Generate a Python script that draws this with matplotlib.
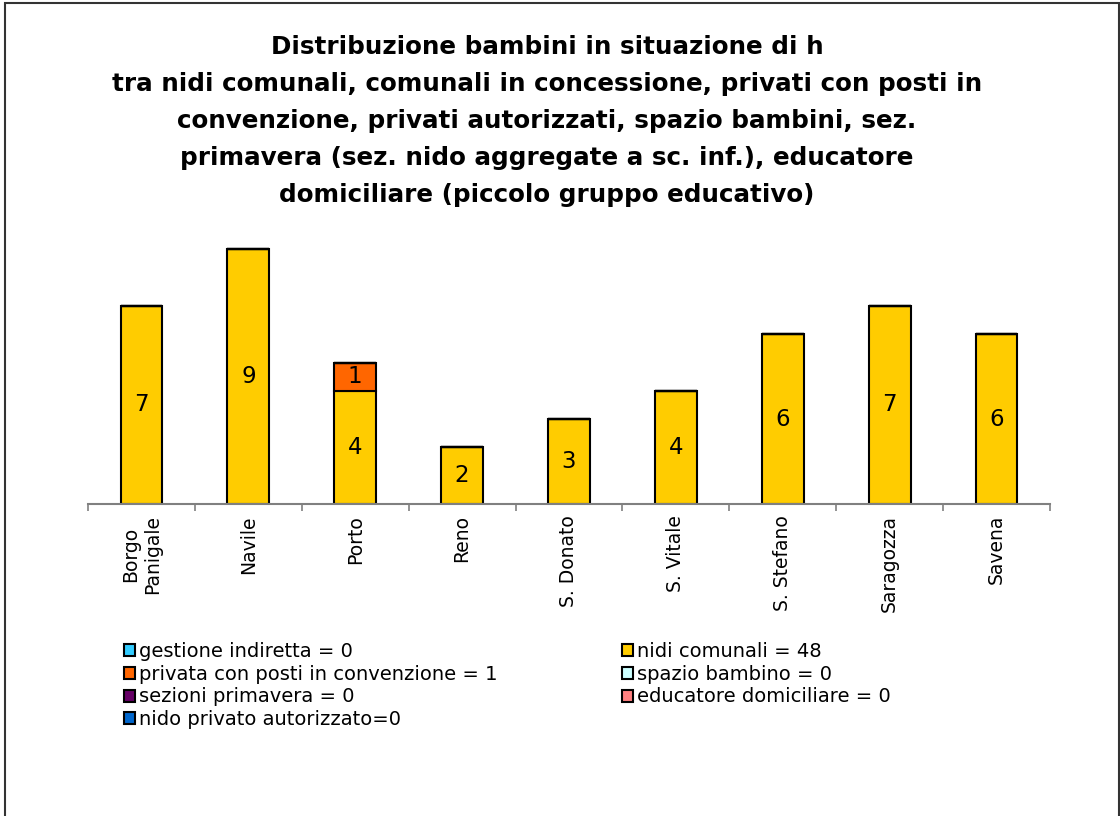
import numpy as np
import matplotlib
matplotlib.use("Agg")
import matplotlib.pyplot as plt
from matplotlib.patches import Rectangle

plt.rcParams['font.family'] = ['DejaVu Sans']

quartieri = ['Borgo\nPanigale', 'Navile', 'Porto', 'Reno', 'S. Donato',
             'S. Vitale', 'S. Stefano', 'Saragozza', 'Savena']

# series, bottom to top of the stack
nidi_comunali = [7, 9, 4, 2, 3, 4, 6, 7, 6]
privata_conv = [0, 0, 1, 0, 0, 0, 0, 0, 0]
gestione_indiretta = [0, 0, 0, 0, 0, 0, 0, 0, 0]
spazio_bambino = [0, 0, 0, 0, 0, 0, 0, 0, 0]
sezioni_primavera = [0, 0, 0, 0, 0, 0, 0, 0, 0]
educatore_dom = [0, 0, 0, 0, 0, 0, 0, 0, 0]
nido_privato_aut = [0, 0, 0, 0, 0, 0, 0, 0, 0]

serie = [
    ('nidi comunali = 48', nidi_comunali, '#FFCC00'),
    ('privata con posti in convenzione = 1', privata_conv, '#FF6600'),
    ('gestione indiretta = 0', gestione_indiretta, '#33CCFF'),
    ('spazio bambino = 0', spazio_bambino, '#CCFFFF'),
    ('sezioni primavera = 0', sezioni_primavera, '#660066'),
    ('educatore domiciliare = 0', educatore_dom, '#FF8080'),
    ('nido privato autorizzato=0', nido_privato_aut, '#0066CC'),
]
ordine_legenda = ['gestione indiretta = 0', 'privata con posti in convenzione = 1',
                  'sezioni primavera = 0', 'nido privato autorizzato=0',
                  'nidi comunali = 48', 'spazio bambino = 0',
                  'educatore domiciliare = 0']

titolo = ("Distribuzione bambini in situazione di h\n"
          "tra nidi comunali, comunali in concessione, privati con posti in\n"
          "convenzione, privati autorizzati, spazio bambini, sez.\n"
          "primavera (sez. nido aggregate a sc. inf.), educatore\n"
          "domiciliare (piccolo gruppo educativo)")

fig = plt.figure(figsize=(11.2, 8.16), dpi=100)
ax = fig.add_axes([88/1120, 1-504/816, 962/1120, 283/816])

x = np.arange(len(quartieri))
bottom = np.zeros(len(quartieri))
handles = {}
for label, vals, col in serie:
    vals = np.array(vals, dtype=float)
    b = ax.bar(x, vals, width=0.39, bottom=bottom, color=col,
               edgecolor='black', linewidth=1.5, label=label)
    handles[label] = b
    for xi, v, b0 in zip(x, vals, bottom):
        if v > 0:
            ax.text(xi, b0 + v/2, f'{int(v)}', ha='center', va='center',
                    fontsize=16.5)
    bottom += vals

ax.set_xlim(-0.5, len(quartieri) - 0.5)
ax.set_ylim(0, 10)
for s in ['top', 'right', 'left']:
    ax.spines[s].set_visible(False)
ax.spines['bottom'].set_color('#808080')
ax.spines['bottom'].set_linewidth(1.5)
ax.set_yticks([])
ax.set_xticks(x)
ax.set_xticklabels(quartieri, rotation=90, fontsize=13.5, va='top',
                   ha='center', multialignment='center')
ax.tick_params(axis='x', which='major', length=0, pad=8)
ax.set_xticks(np.arange(-0.5, len(quartieri)), minor=True)
ax.tick_params(axis='x', which='minor', length=5, width=1.2,
               color='#808080', direction='out')

fig.text(547/1120, 1-35/816, titolo, ha='center', va='top', fontsize=17.7,
         fontweight='bold', linespacing=1.69)

fig.legend([handles[k] for k in ordine_legenda], ordine_legenda,
           loc='upper left', bbox_to_anchor=(124/1120, 1-642/816), ncol=2,
           frameon=False, fontsize=14, handlelength=0.57, handleheight=0.57,
           handletextpad=0.2, labelspacing=0.19, columnspacing=6.4,
           borderaxespad=0, borderpad=0)

fig.patches.append(Rectangle((5/1120, -0.01), 1114/1120, 1.01 - 3/816,
                             transform=fig.transFigure, fill=False,
                             edgecolor='#333333', linewidth=1.5))

fig.savefig('out.png', dpi=100)
